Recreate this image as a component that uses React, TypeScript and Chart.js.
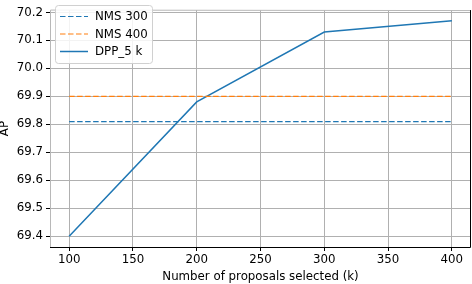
import React, { useEffect, useRef } from "react";
import { Chart, registerables } from "chart.js";
Chart.register(...registerables);

const proposals = [100, 200, 300, 400];
const nms300 = [69.81, 69.81, 69.81, 69.81];
const nms400 = [69.9, 69.9, 69.9, 69.9];
const dpp5k = [69.4, 69.88, 70.13, 70.17];
const xTicks = [100, 150, 200, 250, 300, 350, 400];
const yTicks = [69.4, 69.5, 69.6, 69.7, 69.8, 69.9, 70.0, 70.1, 70.2];
const seriesLabels = ["NMS 300", "NMS 400", "DPP_5 k"];
const xTitle = "Number of proposals selected (k)";
const yTitle = "AP";

const FONT = "'DejaVu Sans', sans-serif";
const FS = 11.8;
const BLUE = "#1f77b4";
const ORANGE = "#ff7f0e";

const legendPlugin = {
  id: "boxLegend",
  afterDraw(chart: any) {
    const ctx = chart.ctx;
    ctx.save();
    const x0 = 55, y0 = 5, w = 97, h = 58;
    ctx.beginPath();
    (ctx as any).roundRect ? ctx.roundRect(x0 + 0.5, y0 + 0.5, w, h, 3) : ctx.rect(x0 + 0.5, y0 + 0.5, w, h);
    ctx.fillStyle = "rgba(255,255,255,0.85)";
    ctx.fill();
    ctx.strokeStyle = "#d0d0d0";
    ctx.lineWidth = 1;
    ctx.stroke();
    chart.data.datasets.forEach((ds: any, i: number) => {
      const y = 16.5 + i * 17.5;
      ctx.beginPath();
      ctx.setLineDash(ds.borderDash || []);
      ctx.strokeStyle = ds.borderColor;
      ctx.lineWidth = ds.borderWidth;
      ctx.moveTo(60, y);
      ctx.lineTo(88, y);
      ctx.stroke();
      ctx.setLineDash([]);
      ctx.fillStyle = "#000";
      ctx.font = `${FS}px ${FONT}`;
      ctx.textBaseline = "middle";
      ctx.textAlign = "left";
      ctx.fillText(ds.label, 95, y + 0.5);
    });
    ctx.restore();
  },
};

const spinePlugin = {
  id: "spines",
  afterDraw(chart: any) {
    const { left, right, top, bottom } = chart.chartArea;
    const ctx = chart.ctx;
    ctx.save();
    ctx.lineWidth = 1;
    ctx.strokeStyle = "#b8b8b8";
    ctx.beginPath();
    ctx.moveTo(left + 0.5, bottom);
    ctx.lineTo(left + 0.5, top);
    ctx.lineTo(right, top + 0.5);
    ctx.stroke();
    ctx.strokeStyle = "#000";
    ctx.beginPath();
    ctx.moveTo(left, bottom + 0.5);
    ctx.lineTo(right - 0.5, bottom + 0.5);
    ctx.lineTo(right - 0.5, top);
    ctx.stroke();
    ctx.restore();
  },
};

export default function App() {
  const ref = useRef<HTMLCanvasElement>(null);
  useEffect(() => {
    document.body.style.margin = "0";
    const mk = (vals: number[]) => proposals.map((x, i) => ({ x, y: vals[i] }));
    const chart = new Chart(ref.current!, {
      type: "line",
      data: {
        datasets: [
          { label: seriesLabels[0], data: mk(nms300), borderColor: BLUE, borderWidth: 1.2, borderDash: [5.5, 2.5], pointRadius: 0, fill: false },
          { label: seriesLabels[1], data: mk(nms400), borderColor: ORANGE, borderWidth: 1.2, borderDash: [5.5, 2.5], pointRadius: 0, fill: false },
          { label: seriesLabels[2], data: mk(dpp5k), borderColor: BLUE, borderWidth: 1.5, pointRadius: 0, fill: false },
        ],
      },
      options: {
        animation: false,
        responsive: false,
        layout: { padding: { top: 1, right: 1, left: 0, bottom: 0 } },
        plugins: { legend: { display: false }, tooltip: { enabled: false } },
        scales: {
          x: {
            type: "linear",
            min: 85,
            max: 415,
            afterBuildTicks: (s: any) => { s.ticks = xTicks.map((v) => ({ value: v })); },
            afterFit: (s: any) => { s.height = 37; },
            border: { display: false },
            grid: { color: "#b0b0b0", lineWidth: 1, tickLength: 4, tickColor: "#000" },
            ticks: { color: "#000", font: { family: FONT, size: FS }, padding: 2, maxRotation: 0, autoSkip: false },
            title: { display: true, text: xTitle, color: "#000", font: { family: FONT, size: FS }, padding: { top: 0, bottom: 0 } },
          },
          y: {
            type: "linear",
            min: 69.3615,
            max: 70.2085,
            afterBuildTicks: (s: any) => { s.ticks = yTicks.map((v) => ({ value: v })); },
            afterFit: (s: any) => { s.width = 50; },
            border: { display: false },
            grid: { color: "#b0b0b0", lineWidth: 1, tickLength: 4, tickColor: "#000" },
            ticks: { color: "#000", font: { family: FONT, size: FS }, padding: 3, autoSkip: false, callback: (v: any) => Number(v).toFixed(1) },
            title: { display: true, text: yTitle, color: "#000", font: { family: FONT, size: FS }, padding: { top: -2, bottom: 0 } },
          },
        },
      },
      plugins: [spinePlugin, legendPlugin],
    } as any);
    return () => chart.destroy();
  }, []);
  return (
    <div style={{ position: "absolute", left: 0, top: 0, width: 472, height: 284 }}>
      <canvas ref={ref} width={472} height={284} style={{ width: 472, height: 284 }} />
    </div>
  );
}
